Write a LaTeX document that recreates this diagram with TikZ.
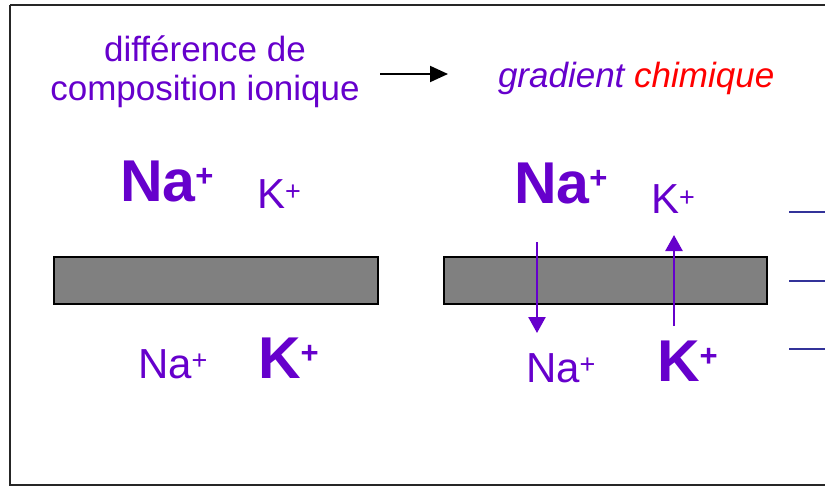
\documentclass[tikz,border=0pt]{standalone}
\usepackage{fontspec}
\setmainfont{Liberation Sans}
\usetikzlibrary{arrows.meta}
\definecolor{ionpurple}{HTML}{6600CC}
\definecolor{lineblue}{HTML}{333399}
\definecolor{membgray}{HTML}{808080}
\newcommand\fsz[1]{\fontsize{#1}{#1}\selectfont}
\newcommand\bigion[1]{{\fsz{59}\bfseries #1\raisebox{15pt}{\fsz{31}+}}}
\newcommand\smallion[2]{{\fsz{42}#1\raisebox{#2}{\fsz{27}+}}}
\tikzset{
  txt/.style={inner sep=0pt, outer sep=0pt, anchor=base west, text=ionpurple},
  ctxt/.style={inner sep=0pt, outer sep=0pt, anchor=base, text=ionpurple, font=\fsz{35}},
  memb/.style={draw=black, line width=2pt, fill=membgray, inner sep=0pt, outer sep=0pt, anchor=north west, minimum height=47pt},
  flux/.style={draw=ionpurple, line width=2.5pt, -{Triangle[length=16pt,width=17pt]}},
  level/.style={draw=lineblue, line width=2pt},
}
\begin{document}
\begin{tikzpicture}[x=1pt,y=-1pt]
\useasboundingbox (0,0) rectangle (825,487);
\draw[line width=2pt, black!85] (10,5) -- (830,5) (10,5) -- (10,485) -- (830,485);

% titles
\node[ctxt] (t1) at (205,62) {différence de};
\node[ctxt] (t2) at (205,100) {composition ionique};
\node[txt, font=\fsz{35}\itshape] (t3) at (498,88) {gradient \textcolor{red}{chimique}};
\coordinate (a1) at (380,74);
\coordinate (a2) at (448,74);
\draw[line width=2pt, -{Triangle[length=18pt,width=16pt]}] (a1) -- (a2);

% left
\node[txt] (naL) at (120,201) {\bigion{Na}};
\node[txt] (kL) at (257,208) {\smallion{K}{8pt}};
\node[memb, minimum width=324pt] (mL) at (54,257) {};
\node[txt] (naLb) at (138,378) {\smallion{Na}{9pt}};
\node[txt] (kLb) at (258,378) {\bigion{K}};

% right
\node[txt] (naR) at (514,203) {\bigion{Na}};
\node[txt] (kR) at (651,213) {\smallion{K}{7pt}};
\node[memb, minimum width=323pt] (mR) at (444,257) {};
\node[txt] (naRb) at (526,382) {\smallion{Na}{9pt}};
\node[txt] (kRb) at (657,381) {\bigion{K}};

\coordinate (d1) at (537,242);
\coordinate (d2) at (537,333);
\coordinate (u1) at (674,326);
\coordinate (u2) at (674,235);
\draw[flux] (d1) -- (d2);
\draw[flux] (u1) -- (u2);

% blue levels
\coordinate (b1) at (789,212); \coordinate (b1e) at (830,212);
\coordinate (b2) at (789,281); \coordinate (b2e) at (830,281);
\coordinate (b3) at (789,349); \coordinate (b3e) at (830,349);
\draw[level] (b1) -- (b1e);
\draw[level] (b2) -- (b2e);
\draw[level] (b3) -- (b3e);
\end{tikzpicture}
\end{document}
